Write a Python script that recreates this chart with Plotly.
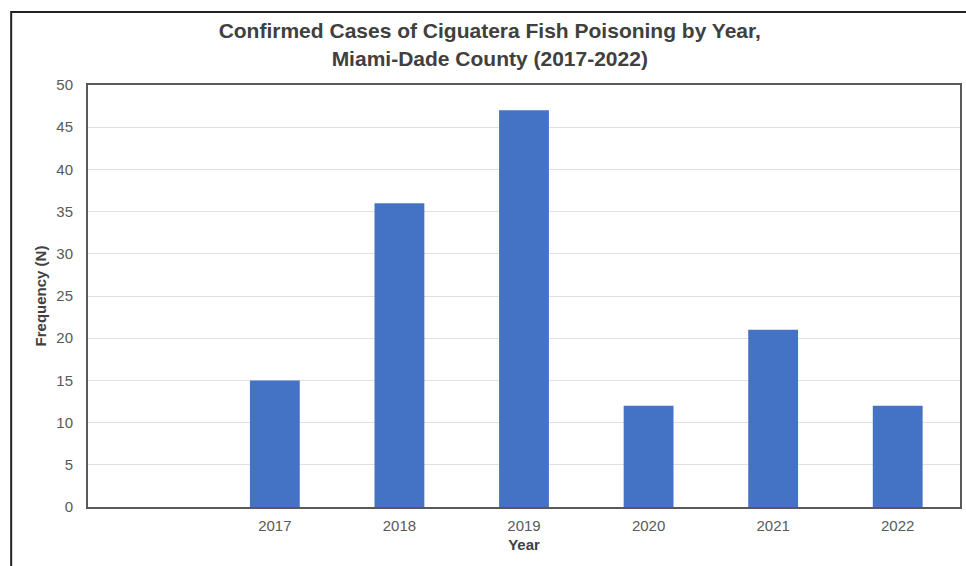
import plotly.graph_objects as go

# Confirmed ciguatera fish poisoning cases, Miami-Dade County
years = [2017, 2018, 2019, 2020, 2021, 2022]
cases = [15, 36, 47, 12, 21, 12]
y_ticks = [0, 5, 10, 15, 20, 25, 30, 35, 40, 45, 50]

fig = go.Figure(
    go.Bar(
        x=years,
        y=cases,
        width=0.4,
        marker=dict(color="#4472C4", line=dict(color="#4472C4", width=0)),
        hoverinfo="x+y",
    )
)

fig.update_layout(
    width=966,
    height=566,
    margin=dict(l=88, r=4, t=85, b=59),
    paper_bgcolor="white",
    plot_bgcolor="white",
    showlegend=False,
    font=dict(family="Liberation Sans, Arial, sans-serif", color="#595959"),
    title=dict(
        text="<b>Confirmed Cases of Ciguatera Fish Poisoning by Year,<br>Miami-Dade County (2017-2022)</b>",
        x=0.507,
        xanchor="center",
        y=0.932,
        yanchor="middle",
        font=dict(size=21, color="#404040"),
    ),
    xaxis=dict(
        range=[2015.5, 2022.5],
        tickvals=years,
        ticktext=[str(y) for y in years],
        tickfont=dict(size=15, color="#595959"),
        ticklabelstandoff=4,
        showgrid=False,
        showline=True,
        linecolor="#595959",
        linewidth=2,
        mirror=True,
        ticks="",
        title=dict(text="<b>Year</b>", font=dict(size=15, color="#404040"), standoff=6),
    ),
    yaxis=dict(
        range=[0, 50],
        tickvals=y_ticks,
        tickfont=dict(size=15, color="#595959"),
        ticklabelstandoff=10,
        showgrid=True,
        gridcolor="#e0e0e0",
        gridwidth=1,
        showline=True,
        linecolor="#595959",
        linewidth=2,
        mirror=True,
        ticks="",
        zeroline=False,
        title=dict(text="<b>Frequency (N)</b>", font=dict(size=15, color="#404040"), standoff=6),
    ),
)

# Outer border of the chart area
fig.add_shape(
    type="rect",
    xref="paper",
    yref="paper",
    x0=-0.0881,
    x1=1.2,
    y0=-0.3,
    y1=1.173,
    line=dict(color="#222222", width=2),
    fillcolor="rgba(0,0,0,0)",
    layer="below",
)

fig.write_html("out.html")
